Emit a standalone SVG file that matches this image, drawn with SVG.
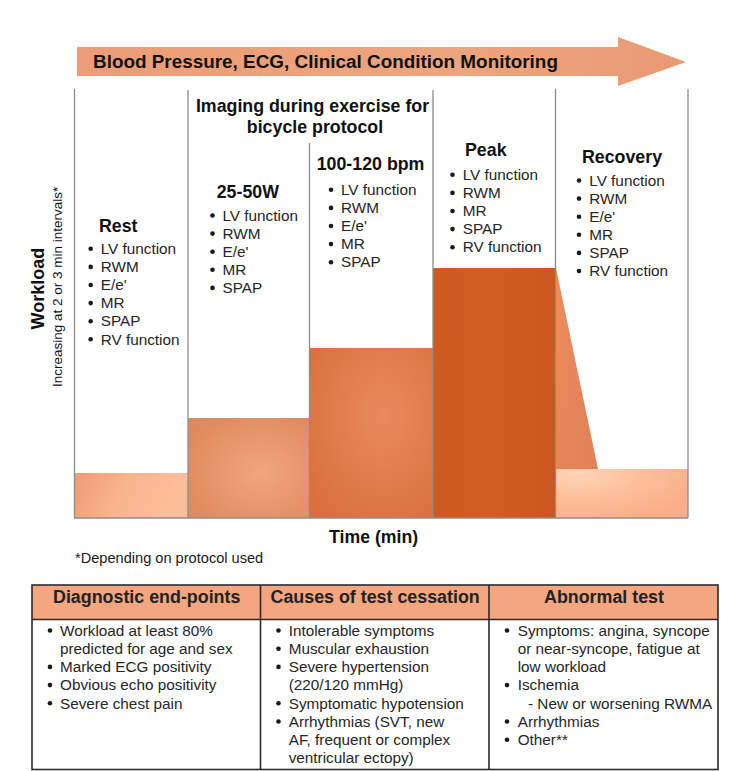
<svg xmlns="http://www.w3.org/2000/svg" width="750" height="771" viewBox="0 0 750 771">
<style>
text{font-family:"Liberation Sans",Arial,sans-serif;fill:#1a1a1a}
.b{font-size:15.3px;fill:#262626}
.h{font-size:17.8px;font-weight:bold;fill:#111}
.th{font-size:17.85px;font-weight:bold;fill:#222}
.v{stroke:#8c8c8c;stroke-width:1.3;fill:none}
.t{stroke:#2b2b2b;stroke-width:1.6;fill:none}
.d{fill:#1a1a1a}
</style>
<defs>
<linearGradient id="ga" x1="0" x2="1" y1="0" y2="0"><stop offset="0" stop-color="#ec9c76"/><stop offset=".6" stop-color="#eca57f"/><stop offset="1" stop-color="#ea9a72"/></linearGradient>
<linearGradient id="g1" x1="0" x2="1" y1="0" y2="0.2"><stop offset="0" stop-color="#ea9c76"/><stop offset=".5" stop-color="#fab48e"/><stop offset="1" stop-color="#fdbf9a"/></linearGradient>
<radialGradient id="g2" cx=".6" cy=".55" r=".7"><stop offset="0" stop-color="#f2a47b"/><stop offset="1" stop-color="#de895f"/></radialGradient>
<radialGradient id="g3" cx=".6" cy=".4" r=".75"><stop offset="0" stop-color="#e98a5c"/><stop offset="1" stop-color="#da6f3d"/></radialGradient>
<linearGradient id="g4" x1="0" x2="1" y1="0" y2="0"><stop offset="0" stop-color="#cf5a21"/><stop offset=".5" stop-color="#d35c22"/><stop offset="1" stop-color="#cc561f"/></linearGradient>
<radialGradient id="g5" cx="0.15" cy="0.1" r="1"><stop offset="0" stop-color="#ffd4b6"/><stop offset=".5" stop-color="#fdbf9b"/><stop offset="1" stop-color="#f9ae88"/></radialGradient>
<linearGradient id="g6" x1="0" x2="1" y1="0" y2="1"><stop offset="0" stop-color="#ec8c5f"/><stop offset="1" stop-color="#e08055"/></linearGradient>
</defs>

<g id="monitoring-arrow">
<polygon points="77,47 618,47 618,37 686,62 618,86 618,76 77,76" fill="url(#ga)"/>
<text x="93" y="67.500" font-size="18.900" font-weight="bold" style="fill:#111">Blood Pressure, ECG, Clinical Condition Monitoring</text>
</g>

<g id="bars">
<rect x="74" y="473" width="114" height="45" fill="url(#g1)"/>
<rect x="188" y="418" width="121" height="100" fill="url(#g2)"/>
<rect x="309" y="348" width="124" height="170" fill="url(#g3)"/>
<rect x="433" y="268" width="123" height="250" fill="url(#g4)"/>
<polygon points="556,268 598,469 556,469" fill="url(#g6)"/>
<rect x="556" y="469" width="132" height="49" fill="url(#g5)"/>
</g>

<g id="connectors">
<path class="v" d="M74.500 89V518"/>
<path class="v" d="M188 90V518"/>
<path class="v" d="M309.500 143V518"/>
<path class="v" d="M433 90V518"/>
<path class="v" d="M555.500 89V518"/>
<path class="v" d="M688 89V518"/>
<path class="v" d="M74 518H688"/>
</g>

<g id="axis-y">
<text transform="translate(44 329.500) rotate(-90)" font-size="18" font-weight="bold" style="fill:#111">Workload</text>
<text transform="translate(61.500 387) rotate(-90)" font-size="13.500" style="fill:#111">Increasing at 2 or 3 min intervals*</text>
</g>
<g id="axis-x">
<text x="329" y="543" font-size="17.700" font-weight="bold" style="fill:#111">Time (min)</text>
<text x="75" y="562.500" font-size="14.600">*Depending on protocol used</text>
</g>

<g id="imaging-title">
<text class="h" x="312.500" y="111.700" text-anchor="middle">Imaging during exercise for</text>
<text class="h" x="315" y="132.700" text-anchor="middle">bicycle protocol</text>
</g>

<g id="stage-rest">
<text class="h" x="99" y="232">Rest</text>
<circle class="d" cx="90.700" cy="248.800" r="2.300"/><text class="b" x="100.700" y="254">LV function</text>
<circle class="d" cx="90.700" cy="266.900" r="2.300"/><text class="b" x="100.700" y="272.100">RWM</text>
<circle class="d" cx="90.700" cy="285" r="2.300"/><text class="b" x="100.700" y="290.200">E/e'</text>
<circle class="d" cx="90.700" cy="303.100" r="2.300"/><text class="b" x="100.700" y="308.300">MR</text>
<circle class="d" cx="90.700" cy="321.200" r="2.300"/><text class="b" x="100.700" y="326.400">SPAP</text>
<circle class="d" cx="90.700" cy="339.300" r="2.300"/><text class="b" x="100.700" y="344.500">RV function</text>
</g>

<g id="stage-25-50w">
<text class="h" x="216.700" y="198">25-50W</text>
<circle class="d" cx="212.500" cy="215.500" r="2.300"/><text class="b" x="222.500" y="220.700">LV function</text>
<circle class="d" cx="212.500" cy="233.600" r="2.300"/><text class="b" x="222.500" y="238.800">RWM</text>
<circle class="d" cx="212.500" cy="251.700" r="2.300"/><text class="b" x="222.500" y="256.900">E/e'</text>
<circle class="d" cx="212.500" cy="269.800" r="2.300"/><text class="b" x="222.500" y="275">MR</text>
<circle class="d" cx="212.500" cy="287.900" r="2.300"/><text class="b" x="222.500" y="293.100">SPAP</text>
</g>

<g id="stage-100-120">
<text class="h" x="316.700" y="170">100-120 bpm</text>
<circle class="d" cx="331" cy="189.800" r="2.300"/><text class="b" x="341" y="195">LV function</text>
<circle class="d" cx="331" cy="207.900" r="2.300"/><text class="b" x="341" y="213.100">RWM</text>
<circle class="d" cx="331" cy="226" r="2.300"/><text class="b" x="341" y="231.200">E/e'</text>
<circle class="d" cx="331" cy="244.100" r="2.300"/><text class="b" x="341" y="249.300">MR</text>
<circle class="d" cx="331" cy="262.200" r="2.300"/><text class="b" x="341" y="267.400">SPAP</text>
</g>

<g id="stage-peak">
<text class="h" x="465" y="155.700">Peak</text>
<circle class="d" cx="452.500" cy="174.800" r="2.300"/><text class="b" x="462.700" y="180">LV function</text>
<circle class="d" cx="452.500" cy="192.900" r="2.300"/><text class="b" x="462.700" y="198.100">RWM</text>
<circle class="d" cx="452.500" cy="211" r="2.300"/><text class="b" x="462.700" y="216.200">MR</text>
<circle class="d" cx="452.500" cy="229.100" r="2.300"/><text class="b" x="462.700" y="234.300">SPAP</text>
<circle class="d" cx="452.500" cy="247.200" r="2.300"/><text class="b" x="462.700" y="252.400">RV function</text>
</g>

<g id="stage-recovery">
<text class="h" x="582" y="163">Recovery</text>
<circle class="d" cx="579" cy="180.500" r="2.300"/><text class="b" x="589.300" y="185.700">LV function</text>
<circle class="d" cx="579" cy="198.600" r="2.300"/><text class="b" x="589.300" y="203.800">RWM</text>
<circle class="d" cx="579" cy="216.700" r="2.300"/><text class="b" x="589.300" y="221.900">E/e'</text>
<circle class="d" cx="579" cy="234.800" r="2.300"/><text class="b" x="589.300" y="240">MR</text>
<circle class="d" cx="579" cy="252.900" r="2.300"/><text class="b" x="589.300" y="258.100">SPAP</text>
<circle class="d" cx="579" cy="271" r="2.300"/><text class="b" x="589.300" y="276.200">RV function</text>
</g>

<g id="table">
<rect x="32" y="585" width="686" height="34" fill="#f3a67f"/>
<rect class="t" x="32" y="585" width="686" height="184.500"/>
<path class="t" d="M32 619.500H718M260.500 585V769.500M489 585V769.500"/>
<text class="th" x="53" y="602.500">Diagnostic end-points</text>
<text class="th" x="270.500" y="602.500">Causes of test cessation</text>
<text class="th" x="544" y="602.500">Abnormal test</text>
</g>

<g id="col-diagnostic">
<circle class="d" cx="50" cy="630.500" r="2.300"/><text class="b" x="60" y="635.700">Workload at least 80%</text>
<text class="b" x="60" y="653.900">predicted for age and sex</text>
<circle class="d" cx="50" cy="666.900" r="2.300"/><text class="b" x="60" y="672.100">Marked ECG positivity</text>
<circle class="d" cx="50" cy="685.100" r="2.300"/><text class="b" x="60" y="690.300">Obvious echo positivity</text>
<circle class="d" cx="50" cy="703.300" r="2.300"/><text class="b" x="60" y="708.500">Severe chest pain</text>
</g>

<g id="col-cessation">
<circle class="d" cx="278.500" cy="630.500" r="2.300"/><text class="b" x="288.700" y="635.700">Intolerable symptoms</text>
<circle class="d" cx="278.500" cy="648.700" r="2.300"/><text class="b" x="288.700" y="653.900">Muscular exhaustion</text>
<circle class="d" cx="278.500" cy="666.900" r="2.300"/><text class="b" x="288.700" y="672.100">Severe hypertension</text>
<text class="b" x="288.700" y="690.300">(220/120 mmHg)</text>
<circle class="d" cx="278.500" cy="703.300" r="2.300"/><text class="b" x="288.700" y="708.500">Symptomatic hypotension</text>
<circle class="d" cx="278.500" cy="721.500" r="2.300"/><text class="b" x="288.700" y="726.700">Arrhythmias (SVT, new</text>
<text class="b" x="288.700" y="744.900">AF, frequent or complex</text>
<text class="b" x="288.700" y="763.100">ventricular ectopy)</text>
</g>

<g id="col-abnormal">
<circle class="d" cx="507" cy="630.500" r="2.300"/><text class="b" x="517.700" y="635.700">Symptoms: angina, syncope</text>
<text class="b" x="517.700" y="653.900">or near-syncope, fatigue at</text>
<text class="b" x="517.700" y="672.100">low workload</text>
<circle class="d" cx="507" cy="685.100" r="2.300"/><text class="b" x="517.700" y="690.300">Ischemia</text>
<text class="b" x="528" y="708.500">- New or worsening RWMA</text>
<circle class="d" cx="507" cy="721.500" r="2.300"/><text class="b" x="517.700" y="726.700">Arrhythmias</text>
<circle class="d" cx="507" cy="739.700" r="2.300"/><text class="b" x="517.700" y="744.900">Other**</text>
</g>
</svg>
